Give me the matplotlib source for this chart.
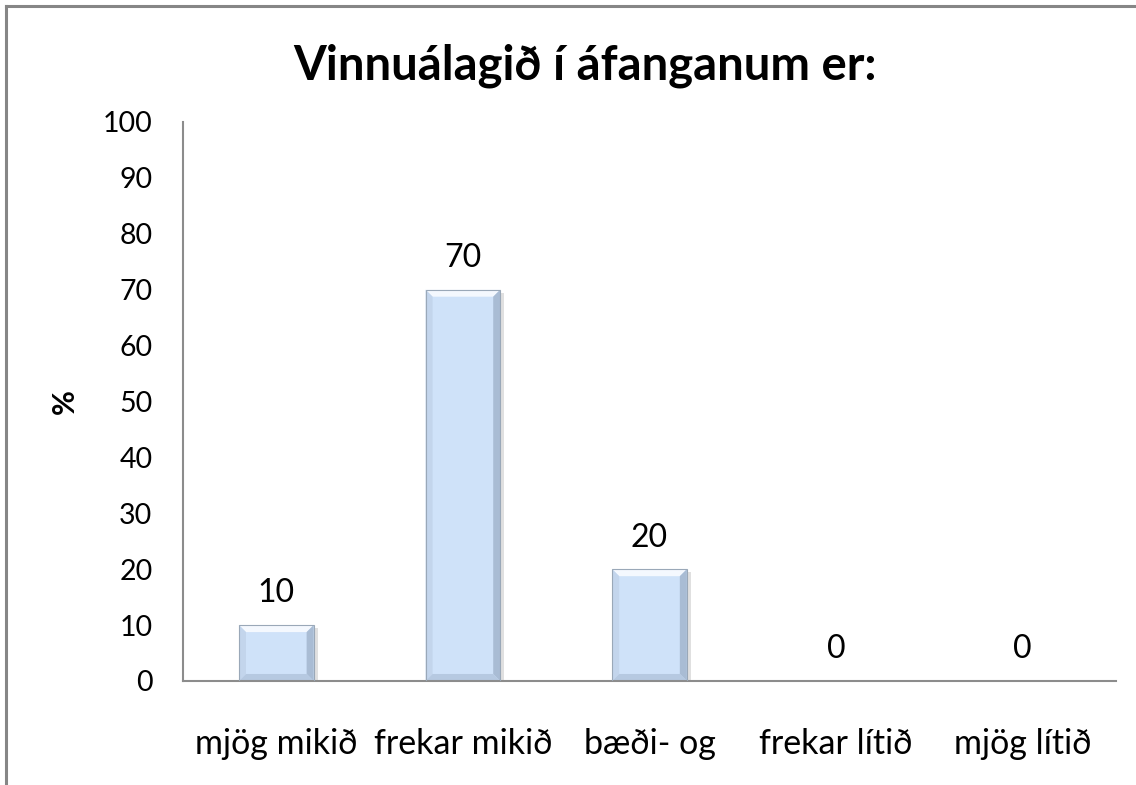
import matplotlib
matplotlib.use("Agg")
import matplotlib.pyplot as plt
from matplotlib.patches import Polygon
from matplotlib.lines import Line2D

categories = ["mjög mikið", "frekar mikið", "bæði- og", "frekar lítið", "mjög lítið"]
values = [10, 70, 20, 0, 0]
yticks = [0, 10, 20, 30, 40, 50, 60, 70, 80, 90, 100]
title = "Vinnuálagið í áfanganum er:"
ylabel = "%"

plt.rcParams["font.family"] = ["Lato", "DejaVu Sans"]

fig = plt.figure(figsize=(11.36, 7.85), dpi=100)
ax = fig.add_axes([0.1611, 0.1325, 0.8213, 0.7121])

x = list(range(len(categories)))
bars = ax.bar(x, values, width=0.4, color="#CFE2F9", edgecolor="none", zorder=2)

ax.set_xlim(-0.5, len(categories) - 0.5)
ax.set_ylim(0, 100)
ax.set_yticks(yticks)
ax.set_yticklabels([str(t) for t in yticks], fontsize=20.5)
ax.set_xticks(x)
ax.set_xticklabels(categories, fontsize=24.5)
ax.tick_params(axis="both", length=0)
ax.tick_params(axis="x", pad=34)
ax.tick_params(axis="y", pad=22)

for side in ("top", "right"):
    ax.spines[side].set_visible(False)
for side in ("left", "bottom"):
    ax.spines[side].set_color("#8C8C8C")
    ax.spines[side].set_linewidth(1.5)

ax.set_ylabel(ylabel, fontsize=22, fontweight="bold", labelpad=17)
fig.suptitle(title, fontsize=34, fontweight="bold", x=0.515, y=0.944)

# bevelled look on each bar, built in display space from the bar geometry
fig.canvas.draw()
bev = 7.0
for rect in bars:
    if rect.get_height() <= 0:
        continue
    (x0, y0), (x1, y1) = ax.transData.transform(
        [(rect.get_x(), rect.get_y()),
         (rect.get_x() + rect.get_width(), rect.get_y() + rect.get_height())])
    b = min(bev, (x1 - x0) / 2, (y1 - y0) / 2)
    # drop shadow
    sh = Polygon([(x0 + 2, y0 - 3), (x1 + 4, y0 - 3), (x1 + 4, y1 - 3), (x0 + 2, y1 - 3)],
                 closed=True, transform=None, facecolor="#000000", alpha=0.12,
                 edgecolor="none", zorder=1.5)
    ax.add_patch(sh)
    faces = [
        ([(x0, y1), (x1, y1), (x1 - b, y1 - b), (x0 + b, y1 - b)], "#F4F8FE"),
        ([(x0, y0), (x0, y1), (x0 + b, y1 - b), (x0 + b, y0 + b)], "#C3D5EC"),
        ([(x1, y0), (x1, y1), (x1 - b, y1 - b), (x1 - b, y0 + b)], "#A9BCD4"),
        ([(x0, y0), (x1, y0), (x1 - b, y0 + b), (x0 + b, y0 + b)], "#B6C9E1"),
    ]
    for pts, col in faces:
        ax.add_patch(Polygon(pts, closed=True, transform=None, facecolor=col,
                             edgecolor="none", zorder=2.5))
    ax.add_patch(Polygon([(x0, y0), (x0, y1), (x1, y1), (x1, y0)], closed=True,
                         transform=None, facecolor="none", edgecolor="#9AA8B8",
                         linewidth=0.8, zorder=2.6))

for xi, v in zip(x, values):
    ax.annotate(str(v), (xi, v), xytext=(0, 12), textcoords="offset points",
                ha="center", va="bottom", fontsize=23)

# outer chart frame
fig.add_artist(Line2D([0.0053, 0.0053], [0.0, 0.9924], transform=fig.transFigure,
                      color="#868686", linewidth=2.2))
fig.add_artist(Line2D([0.0053, 1.0], [0.9924, 0.9924], transform=fig.transFigure,
                      color="#868686", linewidth=2.2))

fig.savefig("out.png", dpi=100)
